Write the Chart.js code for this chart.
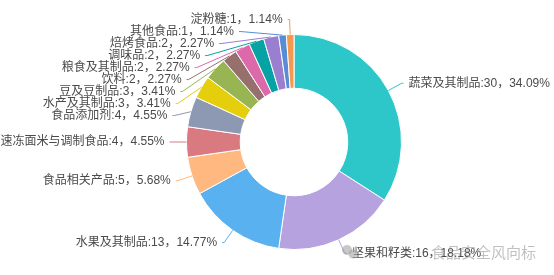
<!DOCTYPE html>
<html>
<head>
<meta charset="utf-8">
<script src="https://cdn.jsdelivr.net/npm/chart.js@4.4.1/dist/chart.umd.min.js"></script>
<style>
  html, body { margin: 0; padding: 0; background: #fff; }
  #wrap { width: 554px; height: 275px; position: relative; }
</style>
</head>
<body>
<div id="wrap"><canvas id="pieChart"></canvas></div>
<script>
// ---- data ----
const categories = [
  "蔬菜及其制品", "坚果和籽类", "水果及其制品", "食品相关产品",
  "速冻面米与调制食品", "食品添加剂", "水产及其制品", "豆及豆制品",
  "饮料", "粮食及其制品", "调味品", "焙烤食品", "其他食品", "淀粉糖"
];
const counts = [30, 16, 13, 5, 4, 4, 3, 3, 2, 2, 2, 2, 1, 1];
const colors = [
  "#2ec7c9", "#b6a2de", "#5ab1ef", "#ffb980", "#d87a80", "#8d98b3", "#e5cf0d",
  "#97b552", "#95706d", "#dc69aa", "#07a2a4", "#9a7fd1", "#588dd5", "#f5994e"
];
const watermark = "食品安全风向标";

const total = counts.reduce((a, b) => a + b, 0);
const FONT = '12px "Liberation Sans", "Noto Sans CJK SC", sans-serif';

// outside labels with leader lines (echarts style)
const outsideLabels = {
  id: "outsideLabels",
  afterDraw(chart) {
    const ctx = chart.ctx;
    const meta = chart.getDatasetMeta(0);
    const len1 = 15, len2 = 2, gap = 5, lineH = 12;
    const items = [];
    meta.data.forEach((arc, i) => {
      const p = arc.getProps(["x", "y", "startAngle", "endAngle", "outerRadius"], true);
      const m = (p.startAngle + p.endAngle) / 2;
      const r = p.outerRadius, R = r + len1;
      items.push({
        i, cx: p.x, cy: p.y, R,
        ex: p.x + Math.cos(m) * r, ey: p.y + Math.sin(m) * r,
        x: p.x + Math.cos(m) * R, y: p.y + Math.sin(m) * R,
        dir: Math.cos(m) >= 0 ? 1 : -1
      });
    });

    [1, -1].forEach((dir) => {
      const list = items.filter((it) => it.dir === dir).sort((a, b) => a.y - b.y);
      let shifted = false;
      for (let k = 1; k < list.length; k++) {
        if (list[k].y < list[k - 1].y + lineH) {
          list[k].y = list[k - 1].y + lineH;
          shifted = true;
        }
      }
      if (!shifted) return;
      // put x back on an ellipse so the labels follow the ring
      [true, false].forEach((top) => {
        const semi = list.filter((it) => (it.y < it.cy) === top);
        if (!semi.length) return;
        let far = semi[0];
        semi.forEach((it) => { if (Math.abs(it.y - it.cy) > Math.abs(far.y - far.cy)) far = it; });
        const R = far.R;
        const dx = far.x - far.cx, dy = Math.abs(far.y - far.cy);
        const rB = Math.abs(dx) < R ? Math.sqrt(dy * dy / (1 - dx * dx / (R * R))) : R;
        semi.forEach((it) => {
          const d = Math.abs(it.y - it.cy);
          it.x = it.cx + dir * Math.sqrt(Math.max(0, 1 - d * d / (rB * rB))) * R;
        });
      });
    });

    ctx.save();
    ctx.font = FONT;
    ctx.textBaseline = "middle";
    items.forEach((it) => {
      ctx.strokeStyle = colors[it.i];
      ctx.lineWidth = 1;
      ctx.beginPath();
      ctx.moveTo(it.ex, it.ey);
      ctx.lineTo(it.x, it.y);
      ctx.lineTo(it.x + it.dir * len2, it.y);
      ctx.stroke();

      const pct = (counts[it.i] / total * 100).toFixed(2);
      ctx.fillStyle = "#4a4a4a";
      ctx.textAlign = it.dir > 0 ? "left" : "right";
      ctx.fillText(categories[it.i] + ":" + counts[it.i] + "，" + pct + "%",
        it.x + it.dir * (len2 + gap), it.y);
    });

    // watermark
    ctx.globalAlpha = 0.55;
    ctx.fillStyle = "#9a9a9a";
    ctx.beginPath();
    ctx.arc(347, 250, 5, 0, Math.PI * 2);
    ctx.fill();
    ctx.beginPath();
    ctx.arc(353, 254, 4.5, 0, Math.PI * 2);
    ctx.fill();
    ctx.font = '15px "Noto Sans CJK SC", sans-serif';
    ctx.textAlign = "right";
    ctx.fillStyle = "#8c8c8c";
    ctx.fillText(watermark, 536, 252);
    ctx.restore();
  }
};

new Chart(document.getElementById("pieChart"), {
  type: "doughnut",
  data: {
    labels: categories,
    datasets: [{
      data: counts,
      backgroundColor: colors,
      borderColor: "#ffffff",
      borderWidth: 1
    }]
  },
  options: {
    responsive: true,
    maintainAspectRatio: false,
    animation: false,
    cutout: "50%",
    layout: { padding: { left: 186, right: 152, top: 34, bottom: 25 } },
    plugins: {
      legend: { display: false },
      tooltip: { enabled: false }
    }
  },
  plugins: [outsideLabels]
});
</script>
</body>
</html>
